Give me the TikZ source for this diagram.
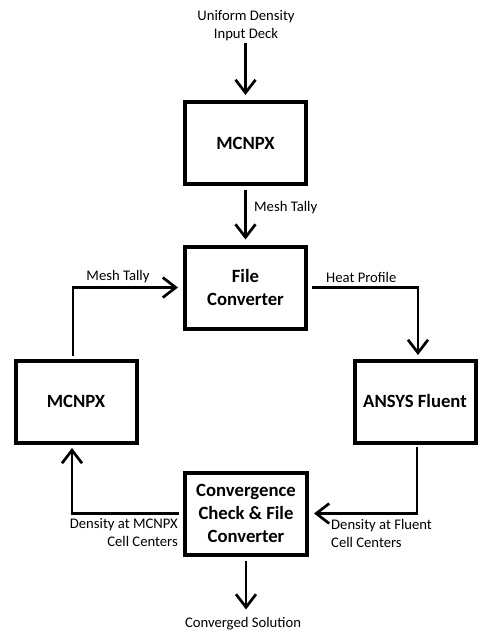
\documentclass[tikz,border=0pt]{standalone}
\usepackage{fontspec}
\setmainfont{Carlito}
\usetikzlibrary{arrows.meta}
\begin{document}
\begin{tikzpicture}[x=1pt,y=-1pt,
  box/.style={draw=black, line width=4pt, minimum width=121pt, minimum height=82pt, align=center, font=\bfseries\fontsize{18.7}{22.8}\selectfont, inner sep=0pt},
  lbl/.style={inner sep=0pt, text=black, font=\fontsize{14.67}{18}\selectfont},
  flow/.style={line width=2.7pt, -{Straight Barb[length=13pt,width=20pt]}, shorten >=5pt, shorten <=4pt}
]
\useasboundingbox[fill=white] (0,0) rectangle (491,643);
% boxes
\node[box] (mc1) at (245.5,143) {MCNPX};
\node[box] (fc) at (245.5,287.5) {File\\Converter};
\node[box] (mc2) at (76,401.5) {MCNPX};
\node[box] (an) at (415,401.5) {ANSYS Fluent};
\node[box, minimum width=122pt] (cc) at (246,513.5) {Convergence\\Check \& File\\Converter};
% labels
\node[lbl, align=center] (in) at (246,26) {Uniform Density\\Input Deck};
\node[lbl, anchor=west] (mt1) at (254,208) {Mesh Tally};
\node[lbl] (mt2) at (118,277) {Mesh Tally};
\node[lbl, anchor=west] (hp) at (326,277) {Heat Profile};
\node[lbl, anchor=east, align=right] (dm) at (178,533) {Density at MCNPX\\Cell Centers};
\node[lbl, anchor=west, align=left] (df) at (331,533) {Density at Fluent\\Cell Centers};
\node[lbl] (out) at (243,624) {Converged Solution};
% connectors
\coordinate (mc2top) at (73,360);
\coordinate (mc2bot) at (72,443);
\coordinate (antop) at (418,360);
\coordinate (anbot) at (417,443);
\draw[flow, shorten <=2pt] (in.south -| mc1.north) -- (mc1.north);
\draw[flow] (mc1.south) -- (fc.north);
\draw[flow] (mc2top) |- (fc.west);
\draw[flow] (fc.east) -| (antop);
\draw[flow] (anbot) |- (cc.east);
\draw[flow] (cc.west) -| (mc2bot);
\draw[flow, shorten >=8pt] (cc.south) -- (cc.south |- out.north);
\end{tikzpicture}
\end{document}
